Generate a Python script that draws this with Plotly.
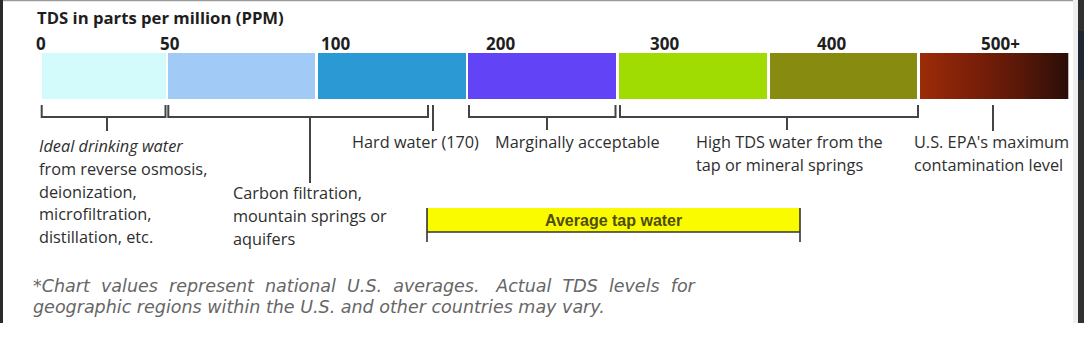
import plotly.graph_objects as go

# ---------------- data ----------------
title_text = "TDS in parts per million (PPM)"
band_names = ["0-50", "50-100", "100-170", "200-300", "300-400", "400-500", "500+"]
band_colors = ["#d3fbfb", "#a1cbf6", "#2b99d3", "#6243f6", "#a0dc02", "#878b10", None]
gradient_colors = ["#9c2c08", "#7e2008", "#5a1808", "#2a0e08"]
tick_labels = ["0", "50", "100", "200", "300", "400", "500+"]

# positions on the (non-linear) display scale of the infographic
band_left = [41.7, 168.3, 318.3, 468.3, 619.3, 770.0, 920.0]
band_right = [166.0, 315.0, 465.7, 616.0, 766.7, 916.7, 1068.3]
tick_pos = [41, 170, 335, 500, 664, 831, 1000]

# brackets under the bar: (start, end, stem position, stem end)
brackets = [
    (41.7, 165.5, 107, 131),
    (168.3, 428.0, 310, 183),
    (469.0, 615.5, 547, 130),
    (620.0, 918.0, 787, 130),
]
markers = [(433, 131), (993, 131)]  # single ticks: Hard water (170), EPA max

desc_texts = [
    ["<i>Ideal drinking water</i>", "from reverse osmosis,", "deionization,",
     "microfiltration,", "distillation, etc."],
    ["Carbon filtration,", "mountain springs or", "aquifers"],
    ["Hard water (170)"],
    ["Marginally acceptable"],
    ["High TDS water from the", "tap or mineral springs"],
    ["U.S. EPA's maximum", "contamination level"],
]
desc_x = [38, 232, 351, 494, 695, 913]
desc_y0 = [146, 193, 142, 142, 142, 142]
line_gap = 22.8

avg_label = "Average tap water"
avg_range = (427.0, 800.0)

footnote = [
    "*Chart\u00a0 values\u00a0 represent\u00a0 national\u00a0 U.S.\u00a0 averages.\u00a0\u00a0 Actual\u00a0 TDS\u00a0 levels\u00a0 for",
    "geographic regions within the U.S. and other countries may vary.",
]

# ---------------- figure ----------------
BAR_TOP, BAR_H = 53, 46
fig = go.Figure()

solid = [i for i, c in enumerate(band_colors) if c]
fig.add_trace(go.Bar(
    x=[(band_left[i] + band_right[i]) / 2 for i in solid],
    width=[band_right[i] - band_left[i] for i in solid],
    y=[BAR_H] * len(solid), base=[BAR_TOP] * len(solid),
    marker=dict(color=[band_colors[i] for i in solid], line=dict(width=0)),
    hoverinfo="skip", showlegend=False,
))
g = len(band_names) - 1
n = len(gradient_colors)
fig.add_trace(go.Scatter(
    x=[band_left[g], band_right[g], band_right[g], band_left[g], band_left[g]],
    y=[BAR_TOP, BAR_TOP, BAR_TOP + BAR_H, BAR_TOP + BAR_H, BAR_TOP],
    mode="lines", line=dict(width=0), fill="toself",
    fillgradient=dict(type="horizontal",
                      colorscale=[[k / (n - 1), c] for k, c in enumerate(gradient_colors)]),
    hoverinfo="skip", showlegend=False,
))

bx, by = [], []
BR_TOP, BR_BOT = 105, 117
for s, e, stem, stem_end in brackets:
    bx += [s, s, e, e, None, stem, stem, None]
    by += [BR_TOP, BR_BOT, BR_BOT, BR_TOP, None, BR_BOT, stem_end, None]
for m, m_end in markers:
    bx += [m, m, None]
    by += [BR_TOP, m_end, None]
fig.add_trace(go.Scatter(x=bx, y=by, mode="lines",
                         line=dict(color="#444444", width=2),
                         hoverinfo="skip", showlegend=False))

a0, a1 = avg_range
fig.add_trace(go.Bar(x=[(a0 + a1) / 2], width=[a1 - a0], y=[24], base=[208],
                     marker=dict(color="#fbfb00", line=dict(width=0)),
                     hoverinfo="skip", showlegend=False))
fig.add_trace(go.Scatter(x=[a0, a0, None, a1, a1, None, a0, a1],
                         y=[208, 242, None, 208, 242, None, 232, 232],
                         mode="lines", line=dict(color="#333333", width=1.6),
                         hoverinfo="skip", showlegend=False))

ann = []
BODY = "Open Sans"
ann.append(dict(x=36, y=17, text="<b>" + title_text + "</b>", xanchor="left", yanchor="middle",
                font=dict(family=BODY, size=16.7, color="#1e1e1e")))
for lbl, p in zip(tick_labels, tick_pos):
    ann.append(dict(x=p, y=43, text="<b>" + lbl + "</b>", xanchor="center", yanchor="middle",
                    font=dict(family=BODY, size=17, color="#1e1e1e")))
for lines, x0, y0 in zip(desc_texts, desc_x, desc_y0):
    for k, t in enumerate(lines):
        ann.append(dict(x=x0, y=y0 + k * line_gap, text=t, xanchor="left", yanchor="middle",
                        font=dict(family=BODY, size=16.3, color="#2e2e2e")))
ann.append(dict(x=(a0 + a1) / 2, y=220, text="<b>" + avg_label + "</b>", xanchor="center",
                yanchor="middle", font=dict(family="Liberation Sans", size=16, color="#4d4d10")))
for k, t in enumerate(footnote):
    ann.append(dict(x=32, y=286 + k * 21, text="<i>" + t + "</i>", xanchor="left", yanchor="middle",
                    font=dict(family="DejaVu Sans", size=17.5, color="#666666")))
for a in ann:
    a.update(xref="x", yref="y", showarrow=False, borderpad=0)

shapes = [
    dict(type="rect", xref="paper", yref="y", x0=0, x1=3 / 1084, y0=0, y1=323,
         fillcolor="#2a2a2a", line=dict(width=0)),
    dict(type="rect", xref="paper", yref="y", x0=1073 / 1084, x1=1078 / 1084, y0=0, y1=323,
         fillcolor="#efefef", line=dict(width=0)),
    dict(type="rect", xref="paper", yref="y", x0=1078 / 1084, x1=1, y0=0, y1=323,
         fillcolor="#303030", line=dict(width=0)),
    dict(type="rect", xref="paper", yref="y", x0=1078 / 1084, x1=1, y0=31, y1=80,
         fillcolor="#1d2631", line=dict(width=0)),
    dict(type="line", xref="paper", yref="y", x0=3 / 1084, x1=1073 / 1084, y0=0.6, y1=0.6,
         line=dict(color="#9a9a9a", width=1.5)),
]

fig.update_layout(
    width=1084, height=363, margin=dict(l=0, r=0, t=0, b=0),
    paper_bgcolor="white", plot_bgcolor="white",
    xaxis=dict(range=[0, 1084], visible=False, fixedrange=True),
    yaxis=dict(range=[363, 0], visible=False, fixedrange=True),
    barmode="overlay", bargap=0, showlegend=False,
    annotations=ann, shapes=shapes,
)
fig.write_html("out.html", config={"displayModeBar": False},
               post_script="document.body.style.margin='0';document.body.style.overflow='hidden';")
